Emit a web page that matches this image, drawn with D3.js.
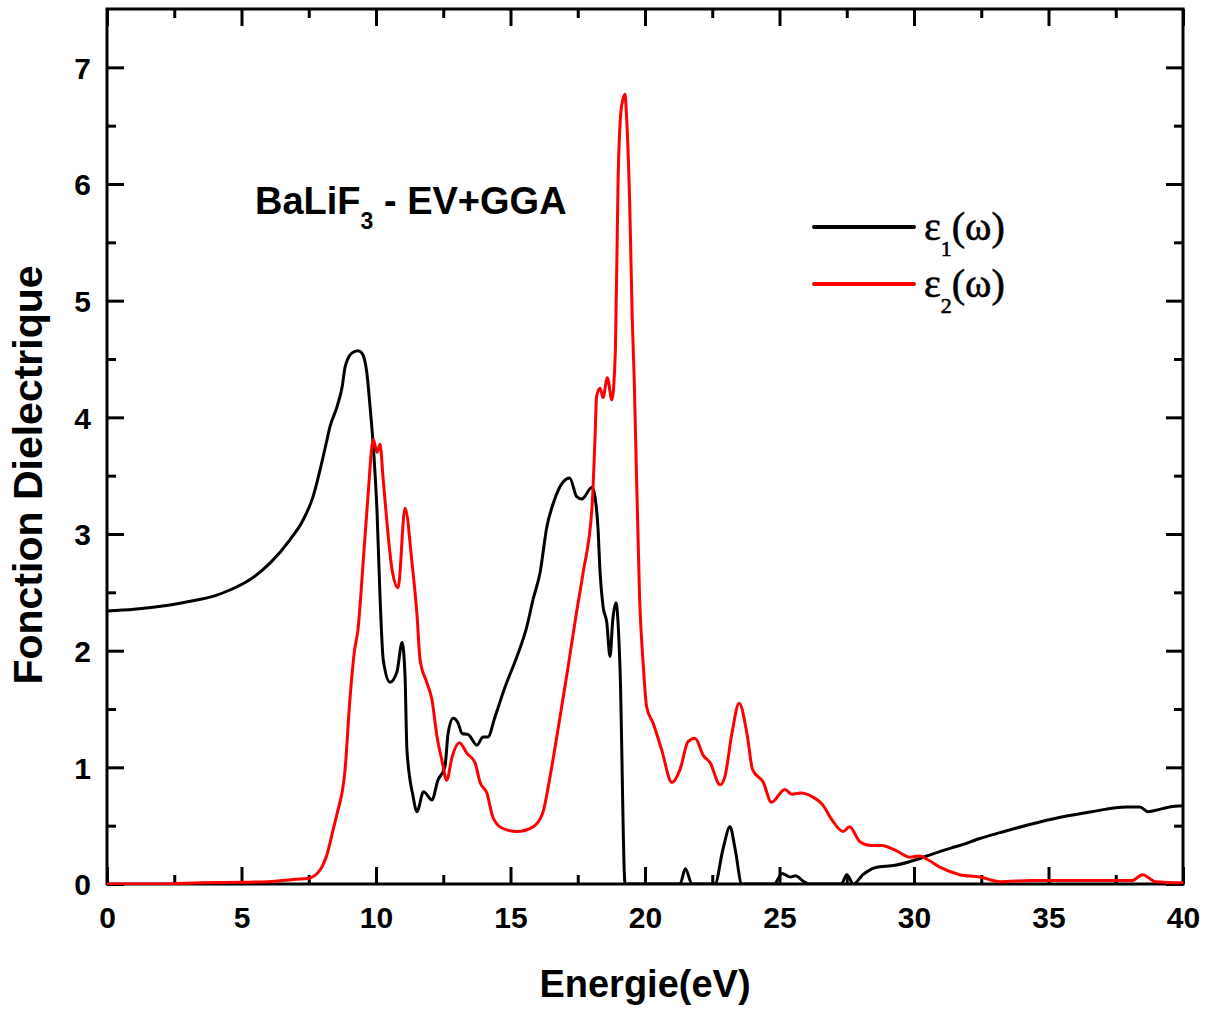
<!DOCTYPE html>
<html>
<head>
<meta charset="utf-8">
<script src="https://cdn.jsdelivr.net/npm/d3@7"></script>
<style>
  html, body { margin: 0; padding: 0; background: #fff; }
  svg { display: block; }
</style>
</head>
<body>
<svg id="chart" width="1210" height="1012"></svg>
<script>
// Real part of the dielectric function, eps1(omega): energy (eV) and value
const eps1Energy = [0, 1, 2, 3, 4, 4.57, 5.32, 6.06, 6.8, 7.29, 7.66, 7.92, 8.18, 8.29, 8.55, 8.74, 8.85, 8.95, 9.1, 9.33, 9.48, 9.66, 9.78, 9.9, 10.04, 10.15, 10.27, 10.52, 10.78, 10.97, 11.08, 11.15, 11.38, 11.52, 11.77, 12.08, 12.3, 12.56, 12.68, 12.87, 13.05, 13.2, 13.43, 13.75, 13.98, 14.16, 14.42, 14.8, 15.24, 15.6, 15.84, 16.1, 16.35, 16.6, 16.97, 17.2, 17.46, 17.65, 18.03, 18.14, 18.25, 18.33, 18.44, 18.58, 18.7, 18.8, 18.92, 19.07, 19.26, 19.5, 21.3, 21.5, 21.75, 22.6, 22.9, 23.16, 23.35, 23.6, 24.8, 25.1, 25.4, 25.6, 25.9, 26.1, 27.3, 27.5, 27.75, 28.1, 28.55, 29.3, 30.1, 30.6, 31.4, 31.7, 32.45, 33.2, 34.3, 35.4, 36.6, 37.9, 38.4, 38.7, 38.95, 39.5, 40];
const eps1Value = [2.34, 2.355, 2.38, 2.42, 2.47, 2.52, 2.61, 2.75, 2.95, 3.12, 3.32, 3.55, 3.81, 3.92, 4.09, 4.26, 4.43, 4.5, 4.55, 4.57, 4.55, 4.38, 4.09, 3.75, 3.18, 2.46, 1.92, 1.73, 1.82, 2.07, 1.78, 1.15, 0.75, 0.62, 0.79, 0.72, 0.89, 1.0, 1.29, 1.42, 1.38, 1.29, 1.28, 1.19, 1.26, 1.26, 1.43, 1.69, 1.95, 2.2, 2.44, 2.67, 3.06, 3.27, 3.45, 3.48, 3.32, 3.3, 3.4, 3.32, 3.06, 2.67, 2.38, 2.24, 1.95, 2.26, 2.41, 1.86, 0.0, 0.0, 0.0, 0.13, 0.0, 0.0, 0.3, 0.49, 0.3, 0.0, 0.0, 0.09, 0.06, 0.07, 0.02, 0.0, 0.0, 0.08, 0.0, 0.08, 0.14, 0.16, 0.21, 0.25, 0.31, 0.33, 0.39, 0.44, 0.51, 0.57, 0.62, 0.66, 0.66, 0.62, 0.63, 0.66, 0.67];

// Imaginary part of the dielectric function, eps2(omega)
const eps2Energy = [0, 2, 3.5, 5, 6, 6.5, 7, 7.5, 7.92, 8.2, 8.4, 8.55, 8.85, 9.03, 9.2, 9.33, 9.52, 9.7, 9.9, 10.04, 10.15, 10.27, 10.6, 10.82, 11.08, 11.34, 11.52, 11.64, 11.9, 12.08, 12.27, 12.45, 12.63, 12.83, 13.1, 13.38, 13.68, 13.87, 14.12, 14.35, 14.68, 15.24, 15.84, 16.2, 16.47, 16.84, 17.14, 17.47, 17.7, 18.03, 18.14, 18.2, 18.33, 18.44, 18.6, 18.77, 18.9, 19.0, 19.13, 19.26, 19.3, 19.44, 19.52, 19.6, 19.8, 19.94, 20.06, 20.3, 20.62, 21.0, 21.3, 21.6, 21.86, 22.17, 22.42, 22.79, 22.97, 23.23, 23.5, 23.79, 24.0, 24.4, 24.7, 25.2, 25.46, 25.8, 26.2, 26.6, 26.95, 27.36, 27.6, 28.0, 28.4, 28.8, 29.3, 29.85, 30.2, 30.5, 31.0, 31.7, 32.45, 33.2, 34.4, 35.2, 38.1, 38.5, 38.97, 40];
const eps2Value = [0.0, 0.0, 0.01, 0.015, 0.02, 0.03, 0.04, 0.05, 0.12, 0.27, 0.46, 0.6, 0.98, 1.58, 2.0, 2.18, 2.75, 3.32, 3.81, 3.7, 3.77, 3.46, 2.69, 2.54, 3.22, 2.75, 2.32, 1.92, 1.72, 1.58, 1.26, 1.06, 0.89, 1.09, 1.21, 1.12, 1.04, 0.87, 0.78, 0.57, 0.48, 0.45, 0.49, 0.61, 0.92, 1.43, 1.86, 2.35, 2.67, 3.23, 3.81, 4.18, 4.25, 4.17, 4.34, 4.15, 4.58, 6.04, 6.67, 6.77, 6.64, 5.75, 4.9, 4.32, 2.44, 1.86, 1.52, 1.38, 1.15, 0.87, 0.98, 1.22, 1.25, 1.1, 1.04, 0.85, 0.92, 1.29, 1.55, 1.29, 0.98, 0.87, 0.7, 0.81, 0.77, 0.78, 0.75, 0.68, 0.55, 0.45, 0.49, 0.36, 0.33, 0.33, 0.29, 0.23, 0.24, 0.21, 0.14, 0.08, 0.06, 0.02, 0.03, 0.03, 0.03, 0.08, 0.02, 0.01];

// Axis ticks
const xMajorTicks = [0, 5, 10, 15, 20, 25, 30, 35, 40];
const xMinorTicks = [2.5, 7.5, 12.5, 17.5, 22.5, 27.5, 32.5, 37.5];
const yMajorTicks = [0, 1, 2, 3, 4, 5, 6, 7];
const yMinorTicks = [0.5, 1.5, 2.5, 3.5, 4.5, 5.5, 6.5];

const margin = { left: 107, right: 1183, top: 9, bottom: 884 };
const svg = d3.select("#chart");

const x = d3.scaleLinear().domain([0, 40]).range([margin.left, margin.right]);
const y = d3.scaleLinear().domain([0, 7.5]).range([margin.bottom, margin.top]);

const sansBold = "'Liberation Sans', Arial, sans-serif";
const serif = "'Liberation Serif', 'Times New Roman', serif";

svg.append("defs").append("clipPath").attr("id", "plotClip")
  .append("rect")
  .attr("x", margin.left).attr("y", margin.top - 2)
  .attr("width", margin.right - margin.left)
  .attr("height", margin.bottom - margin.top + 3);

// Axes: ticks point inward on all four sides
const majorLen = 17, minorLen = 9;
function addAxis(axisFn, scale, ticks, len, transform, withLabels) {
  const g = svg.append("g")
    .attr("transform", transform)
    .call(axisFn(scale).tickValues(ticks).tickSizeInner(-len).tickSizeOuter(0)
      .tickFormat(withLabels ? d3.format("d") : () => ""));
  g.select(".domain").remove();
  g.selectAll(".tick line").attr("stroke", "#000").attr("stroke-width", 3);
  g.selectAll(".tick text")
    .attr("font-family", sansBold).attr("font-weight", "bold")
    .attr("font-size", 30).attr("fill", "#000");
  return g;
}
const gxb = addAxis(d3.axisBottom, x, xMajorTicks, majorLen, `translate(0,${margin.bottom})`, true);
gxb.selectAll(".tick text").attr("y", 0).attr("dy", "1.45em");
addAxis(d3.axisBottom, x, xMinorTicks, minorLen, `translate(0,${margin.bottom})`, false);
addAxis(d3.axisTop, x, xMajorTicks, majorLen, `translate(0,${margin.top})`, false);
addAxis(d3.axisTop, x, xMinorTicks, minorLen, `translate(0,${margin.top})`, false);
const gyl = addAxis(d3.axisLeft, y, yMajorTicks, majorLen, `translate(${margin.left},0)`, true);
gyl.selectAll(".tick text").attr("x", -16).attr("dy", "0.36em");
addAxis(d3.axisLeft, y, yMinorTicks, minorLen, `translate(${margin.left},0)`, false);
addAxis(d3.axisRight, y, yMajorTicks, majorLen, `translate(${margin.right},0)`, false);
addAxis(d3.axisRight, y, yMinorTicks, minorLen, `translate(${margin.right},0)`, false);

// Frame
svg.append("rect")
  .attr("x", margin.left).attr("y", margin.top)
  .attr("width", margin.right - margin.left)
  .attr("height", margin.bottom - margin.top)
  .attr("fill", "none").attr("stroke", "#000").attr("stroke-width", 3);

// Curves
const line = d3.line()
  .x(d => x(d[0])).y(d => y(d[1]))
  .curve(d3.curveMonotoneX);

const eps1 = eps1Energy.map((e, i) => [e, eps1Value[i]]);
const eps2 = eps2Energy.map((e, i) => [e, eps2Value[i]]);

const curves = svg.append("g").attr("clip-path", "url(#plotClip)");
curves.append("path").datum(eps1)
  .attr("d", line).attr("fill", "none")
  .attr("stroke", "#000").attr("stroke-width", 3).attr("stroke-linejoin", "round");
curves.append("path").datum(eps2)
  .attr("d", line).attr("fill", "none")
  .attr("stroke", "#ff0000").attr("stroke-width", 3).attr("stroke-linejoin", "round");

// Axis titles
svg.append("text")
  .attr("x", 645).attr("y", 997)
  .attr("text-anchor", "middle")
  .attr("font-family", sansBold).attr("font-weight", "bold").attr("font-size", 38)
  .text("Energie(eV)");

svg.append("text")
  .attr("transform", "translate(42,475) rotate(-90)")
  .attr("text-anchor", "middle")
  .attr("font-family", sansBold).attr("font-weight", "bold").attr("font-size", 41)
  .text("Fonction Dielectrique");

// Annotation
const title = svg.append("text")
  .attr("x", 255).attr("y", 214)
  .attr("font-family", sansBold).attr("font-weight", "bold").attr("font-size", 38);
title.append("tspan").text("BaLiF");
title.append("tspan").attr("font-size", 23).attr("dy", 15).text("3");
title.append("tspan").attr("dy", -15).text(" - EV+GGA");

// Legend
const legendItems = [
  { sub: "1", color: "#000", yLine: 227 },
  { sub: "2", color: "#ff0000", yLine: 284 }
];
legendItems.forEach(item => {
  svg.append("line")
    .attr("x1", 814).attr("x2", 914)
    .attr("y1", item.yLine).attr("y2", item.yLine)
    .attr("stroke", item.color).attr("stroke-width", 4).attr("stroke-linecap", "round");
  const t = svg.append("text")
    .attr("x", 924).attr("y", item.yLine + 13)
    .attr("font-family", serif).attr("font-size", 40).attr("fill", "#000")
    .attr("stroke", "#000").attr("stroke-width", 0.6);
  t.append("tspan").text("\u03b5");
  t.append("tspan").attr("font-size", 22).attr("dy", 16).text(item.sub);
  t.append("tspan").attr("dy", -16).text("(\u03c9)");
});
</script>
</body>
</html>
